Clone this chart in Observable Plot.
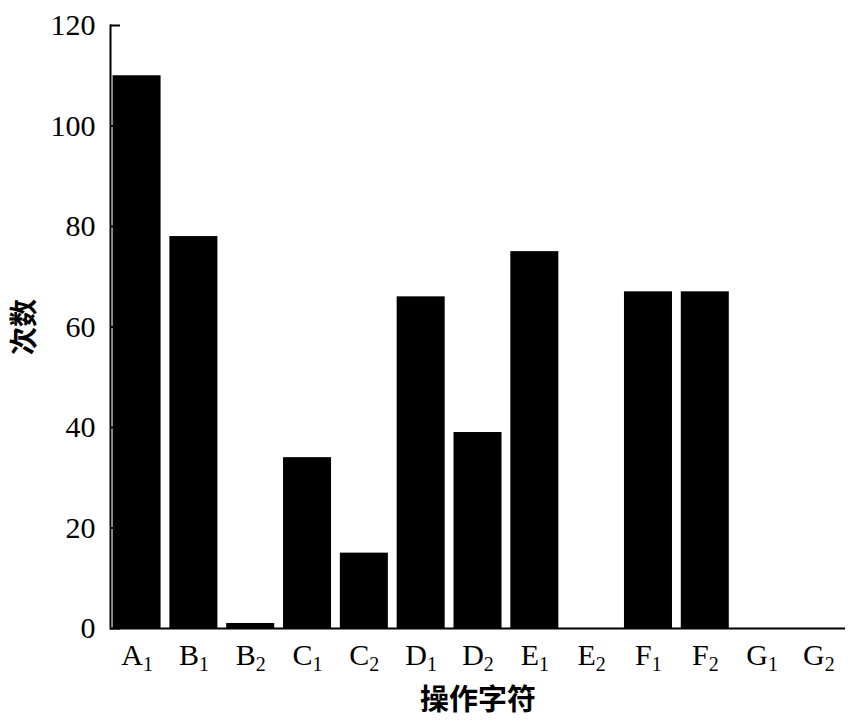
<!DOCTYPE html>
<html>
<head>
<meta charset="utf-8">
<script src="https://cdn.jsdelivr.net/npm/d3@7"></script>
<script src="https://cdn.jsdelivr.net/npm/@observablehq/plot@0.6"></script>
<style>
  html, body { margin: 0; padding: 0; background: #fff; }
  #chart svg { display: block; }
</style>
</head>
<body>
<div id="chart"></div>
<script>
const categories = ["A1", "B1", "B2", "C1", "C2", "D1", "D2", "E1", "E2", "F1", "F2", "G1", "G2"];
const counts = [110, 78, 1, 34, 15, 66, 39, 75, 0, 67, 67, 0, 0];
const yTicks = [0, 20, 40, 60, 80, 100, 120];
const xTitle = "操作字符";
const yTitle = "次数";

const data = categories.map((c, i) => ({cat: c, n: counts[i]}));
const serif = "'Liberation Serif', 'Times New Roman', serif";
const cjk = "'Noto Sans CJK SC', sans-serif";

const chart = Plot.plot({
  width: 852,
  height: 726,
  marginLeft: 110,
  marginRight: 7,
  marginTop: 25,
  marginBottom: 98,
  style: {fontFamily: serif, fontSize: "30px", color: "#000", background: "#fff"},
  x: {domain: categories, paddingInner: 0.155, paddingOuter: 0.045, round: false, label: null},
  y: {domain: [0, 120], label: null},
  marks: [
    Plot.barY(data, {x: "cat", y: "n", fill: "#000"}),
    Plot.ruleY([0], {stroke: "#000", strokeWidth: 2}),
    Plot.frame({anchor: "left", stroke: "#000", strokeWidth: 2}),
    Plot.axisY({ticks: yTicks, tickSize: -10, tickPadding: 25, strokeWidth: 2, fontSize: 30, label: null}),
    Plot.axisX({tickSize: 0, tickPadding: 15, fontSize: 30, label: null}),
    Plot.text([xTitle], {frameAnchor: "bottom", lineAnchor: "middle", textAnchor: "middle", dy: 72, fontFamily: cjk, fontWeight: "bold", fontSize: 29, fill: "#000"}),
    Plot.text([yTitle], {frameAnchor: "left", lineAnchor: "middle", textAnchor: "middle", dx: -85, rotate: -90, fontFamily: cjk, fontWeight: "bold", fontSize: 28, fill: "#000"})
  ]
});

document.getElementById("chart").appendChild(chart);

// make tick label font explicit
d3.select(chart).selectAll('g[aria-label="x-axis tick label"], g[aria-label="y-axis tick label"]')
  .attr("font-size", 30).style("font-size", "30px").attr("font-family", serif);

// render subscripts in x tick labels (e.g. "A1" -> A with subscript 1)
d3.select(chart).selectAll('g[aria-label="x-axis tick label"] text').each(function() {
  const t = d3.select(this);
  const s = t.text();
  const main = s.replace(/\d+$/, "");
  const sub = s.slice(main.length);
  t.text(main);
  t.append("tspan").attr("font-size", 20).style("font-size", "20px").attr("dy", "0.3em").text(sub);
});
</script>
</body>
</html>
